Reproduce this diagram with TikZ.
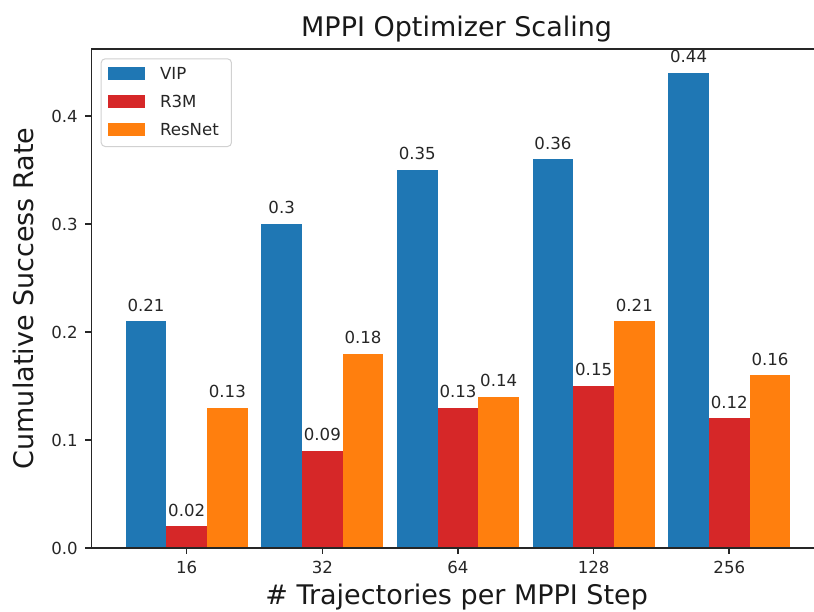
\documentclass[tikz,border=0pt]{standalone}
\usepackage{fontspec}
\setmainfont{DejaVu Sans}
\usepackage{xcolor}
\usetikzlibrary{positioning}

\definecolor{vipblue}{HTML}{1F77B4}
\definecolor{rthreered}{HTML}{D62728}
\definecolor{resorange}{HTML}{FF7F0E}

\begin{document}
\begin{tikzpicture}[
    x=67.83pt, y=540pt,
    spine/.style={line width=0.8pt, black!85},
    val/.style={anchor=base, inner sep=0pt, yshift=5pt, font=\fontsize{8.3}{10}\selectfont, text=black!85},
    ticklbl/.style={inner sep=0pt, font=\fontsize{8.3}{10}\selectfont, text=black!85},
    biglbl/.style={inner sep=0pt, anchor=base, font=\fontsize{13.5}{16}\selectfont, text=black!90},
    legendbox/.style={draw=black!18, fill=white, rounded corners=2pt, line width=0.5pt, minimum width=65.15pt, minimum height=43.85pt, inner sep=0pt, anchor=north west},
    patch/.style={minimum width=18.5pt, minimum height=6.5pt, inner sep=0pt, outer sep=0pt},
    legtext/.style={inner sep=0pt, font=\fontsize{8.3}{10}\selectfont, text=black!85},
]
\useasboundingbox (-1.3763,-0.05926) rectangle (4.6244,0.50741);

% Bars, value labels and x ticks
\foreach \i/\n/\a/\b/\c in {0/16/0.21/0.02/0.13, 1/32/0.3/0.09/0.18, 2/64/0.35/0.13/0.14, 3/128/0.36/0.15/0.21, 4/256/0.44/0.12/0.16} {
    \fill[vipblue] (\i-0.45,0) rectangle (\i-0.15,\a);
    \fill[rthreered] (\i-0.15,0) rectangle (\i+0.15,\b);
    \fill[resorange] (\i+0.15,0) rectangle (\i+0.45,\c);
    \node[val] (va\i) at (\i-0.3,\a) {\a};
    \node[val] (vb\i) at (\i,\b) {\b};
    \node[val] (vc\i) at (\i+0.3,\c) {\c};
    \draw[spine] (\i,0) -- ++(0,-3pt);
    \node[ticklbl, anchor=base] (xt\i) at (\i,0) [yshift=-13pt] {\n};
}

% Y ticks
\foreach \v in {0.0,0.1,0.2,0.3,0.4} {
    \draw[spine] (-0.703,\v) -- ++(-3pt,0);
    \node[ticklbl, anchor=east] (yt\v) at (-0.703,\v) [xshift=-6.6pt] {\v};
}

% Axes (left, top, bottom)
\draw[spine] (4.6244,0.4623) -- (-0.703,0.4623) -- (-0.703,0) -- (4.6244,0);

% Titles
\node[biglbl] (title) at (1.99,0.4734) {MPPI Optimizer Scaling};
\node[biglbl] (xlabel) at (1.99,-0.05278) {\# Trajectories per MPPI Step};
\node[biglbl, rotate=90] (ylabel) at (-1.13,0.2311) {Cumulative Success Rate};

% Legend
\node[legendbox] (legend) at (-0.634,0.4534) {};
\node[patch, fill=vipblue, below right=4.2pt and 3.5pt of legend.north west] (pvip) {};
\node[patch, fill=rthreered, below=7.5pt of pvip] (pr3m) {};
\node[patch, fill=resorange, below=7.5pt of pr3m] (pres) {};
\node[legtext, right=7.5pt of pvip] (tvip) {VIP};
\node[legtext, right=7.5pt of pr3m] (tr3m) {R3M};
\node[legtext, right=7.5pt of pres] (tres) {ResNet};
\end{tikzpicture}
\end{document}
